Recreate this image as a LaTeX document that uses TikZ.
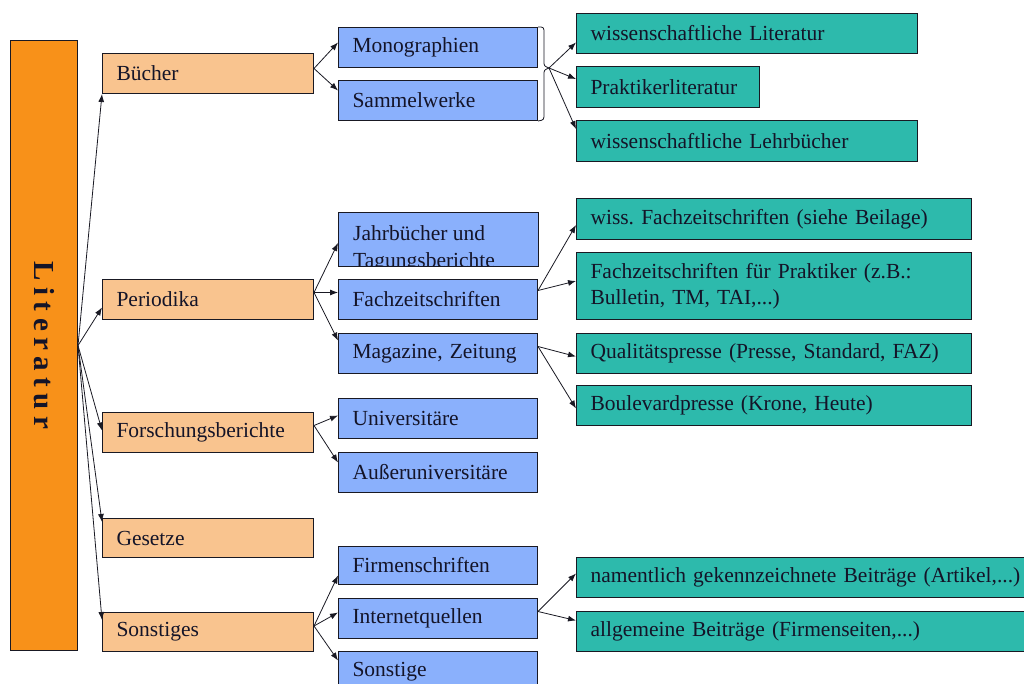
\documentclass[tikz,border=0pt]{standalone}
\usepackage{fontspec}
\setmainfont{Liberation Serif}
\usetikzlibrary{arrows.meta}
\definecolor{litor}{RGB}{248,145,25}
\definecolor{catc}{RGB}{249,196,143}
\definecolor{bluec}{RGB}{138,176,252}
\definecolor{tealc}{RGB}{45,186,172}
\definecolor{txt}{RGB}{20,20,40}
\definecolor{edge}{RGB}{25,25,35}
\begin{document}
\begin{tikzpicture}[x=1pt,y=-1pt,
  base/.style={draw=edge, line width=1pt, inner xsep=14pt, inner ysep=0pt, align=left,
    anchor=north west, font=\fontsize{21.5}{26}\selectfont, text=txt},
  sz/.style 2 args={minimum width=#1, minimum height=#2, text width=#1-28pt},
  cat/.style={base, fill=catc},
  sub/.style={base, fill=bluec},
  leaf/.style={base, fill=tealc, inner xsep=13pt},
  arr/.style={-{Latex[length=8pt,width=6pt]}, line width=0.8pt, draw=edge},
  brace/.style={draw=edge, line width=0.8pt}
]
\useasboundingbox[fill=white] (0,0) rectangle (1024,684);

% main box
\node[draw=edge, line width=1pt, fill=litor, anchor=north west, inner sep=0pt,
  minimum width=67pt, minimum height=610pt, text=txt] (lit) at (10,40)
  {\rotatebox{-90}{\bfseries\fontsize{29}{29}\selectfont L\kern6.5pt i\kern6.5pt t\kern6.5pt e\kern6.5pt r\kern6.5pt a\kern6.5pt t\kern6.5pt u\kern6.5pt r}};

% categories
\node[cat, sz={211pt}{40pt}] (buecher) at (102,53) {Bücher};
\node[cat, sz={211pt}{40pt}] (period) at (102,279) {Periodika};
\node[cat, sz={211pt}{40pt}] (forsch) at (102,412) {Forschungsberichte};
\node[cat, sz={211pt}{39pt}] (gesetze) at (102,518) {Gesetze};
\node[cat, sz={211pt}{39pt}] (sonst) at (102,612) {Sonstiges};

% sub categories
\node[sub, sz={199pt}{40pt}] (mono) at (338,27) {Monographien};
\node[sub, sz={199pt}{40pt}] (sammel) at (338,80) {Sammelwerke};
\node[sub, sz={199pt}{53pt}, draw=none] (jahr) at (338,213) {};
\begin{scope}
  \clip (jahr.north west) rectangle (jahr.south east);
  \node[anchor=north west, align=left, inner sep=0pt, font=\fontsize{21.5}{27}\selectfont, text=txt]
     (jahrtext) at ([xshift=15pt,yshift=-12pt]jahr.north west)
     {Jahrbücher und\\Tagungsberichte};
\end{scope}
\draw[draw=edge, line width=1pt] (jahr.north west) rectangle (jahr.south east);
\node[sub, sz={199pt}{40pt}] (fachz) at (338,279) {Fachzeitschriften};
\node[sub, sz={199pt}{40pt}] (mag) at (338,333) {Magazine, Zeitung};
\node[sub, sz={199pt}{40pt}] (uni) at (338,398) {Universitäre};
\node[sub, sz={199pt}{40pt}] (aussen) at (338,452) {Außeruniversitäre};
\node[sub, sz={199pt}{38pt}] (firmen) at (338,546) {Firmenschriften};
\node[sub, sz={199pt}{40pt}] (internet) at (338,598) {Internetquellen};
\node[sub, sz={199pt}{40pt}] (sonstige) at (338,651) {Sonstige};

% leaves
\node[leaf, sz={341pt}{40pt}] (wisslit) at (576,13) {wissenschaftliche~Literatur};
\node[leaf, sz={183pt}{41pt}] (praktlit) at (576,66) {Praktikerliteratur};
\node[leaf, sz={341pt}{41pt}] (lehr) at (576,120) {wissenschaftliche~Lehrbücher};
\node[leaf, sz={395pt}{41pt}] (wissfach) at (576,198) {wiss.~Fachzeitschriften~(siehe~Beilage)};
\node[leaf, sz={395pt}{67pt}] (fachprak) at (576,252) {Fachzeitschriften~für~Praktiker~(z.B.:\\Bulletin,~TM,~TAI,...)};
\node[leaf, sz={395pt}{40pt}] (qual) at (576,333) {Qualitätspresse~(Presse,~Standard,~FAZ)};
\node[leaf, sz={395pt}{40pt}] (boul) at (576,385) {Boulevardpresse~(Krone,~Heute)};
\node[leaf, sz={460pt}{40pt}] (nament) at (576,557) {namentlich~gekennzeichnete~Beiträge~(Artikel,...)};
\node[leaf, sz={460pt}{40pt}] (allg) at (576,611) {allgemeine~Beiträge~(Firmenseiten,...)};

% brace
\coordinate (bt) at (549,68);
\draw[brace] (mono.north east) .. controls (544,27) .. (544,34) -- (544,61)
  .. controls (544,66) .. (bt) .. controls (544,70) .. (544,75) -- (544,113)
  .. controls (544,120) .. (sammel.south east);

% connectors from Literatur
\draw[arr] (lit.east) -- (buecher.south west);
\draw[arr] (lit.east) -- ([yshift=-8pt]period.west);
\draw[arr] (lit.east) -- ([yshift=2pt]forsch.west);
\draw[arr] (lit.east) -- ([yshift=-4pt]gesetze.north west);
\draw[arr] (lit.east) -- ([yshift=-8pt]sonst.north west);

% Bücher
\draw[arr] ([yshift=5pt]buecher.east) -- ([yshift=5pt]mono.west);
\draw[arr] ([yshift=5pt]buecher.east) -- ([yshift=10pt]sammel.west);
% Periodika
\draw[arr] ([yshift=7pt]period.east) -- ([yshift=-3pt]jahr.west);
\draw[arr] ([yshift=7pt]period.east) -- ([yshift=7pt]fachz.west);
\draw[arr] ([yshift=7pt]period.east) -- ([yshift=13pt]mag.west);
% Forschungsberichte
\draw[arr] ([yshift=7pt]forsch.east) -- ([yshift=3pt]uni.west);
\draw[arr] ([yshift=7pt]forsch.east) -- ([yshift=10pt]aussen.west);
% Sonstiges
\draw[arr] ([yshift=6pt]sonst.east) -- ([yshift=-10pt]firmen.west);
\draw[arr] ([yshift=6pt]sonst.east) -- ([yshift=6pt]internet.west);
\draw[arr] ([yshift=6pt]sonst.east) -- ([yshift=11pt]sonstige.west);

% brace to leaves
\draw[arr] (bt) -- ([yshift=-9pt]wisslit.west);
\draw[arr] (bt) -- ([yshift=8pt]praktlit.west);
\draw[arr] (bt) -- ([yshift=12pt]lehr.west);
% Fachzeitschriften
\draw[arr] ([yshift=9pt]fachz.east) -- ([yshift=-6pt]wissfach.west);
\draw[arr] ([yshift=9pt]fachz.east) -- ([yshift=5pt]fachprak.west);
% Magazine
\draw[arr] ([yshift=7pt]mag.east) -- ([yshift=-3pt]qual.west);
\draw[arr] ([yshift=7pt]mag.east) -- ([yshift=-3pt]boul.west);
% Internetquellen
\draw[arr] ([yshift=7pt]internet.east) -- ([yshift=4pt]nament.west);
\draw[arr] ([yshift=7pt]internet.east) -- ([yshift=11pt]allg.west);
\end{tikzpicture}
\end{document}
